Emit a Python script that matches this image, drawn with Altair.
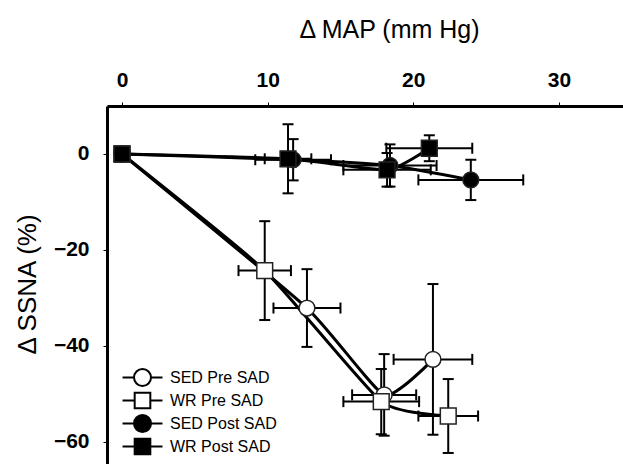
import altair as alt
import pandas as pd

FONT = "Liberation Sans"

series = ["SED Pre SAD", "WR Pre SAD", "SED Post SAD", "WR Post SAD"]
shapes = ["circle", "square", "circle", "square"]
fills = ["white", "white", "black", "black"]

# legend symbols: marker with line stubs
legend_paths = [
    "M-2.35,0L-1,0M1,0L2.35,0M1,0A1,1,0,1,1,-1,0A1,1,0,1,1,1,0Z",
    "M-2.35,0L-0.92,0M0.92,0L2.35,0M-0.92,-0.92L0.92,-0.92L0.92,0.92L-0.92,0.92Z",
    "M-2.35,0L-1,0M1,0L2.35,0M1,0A1,1,0,1,1,-1,0A1,1,0,1,1,1,0Z",
    "M-2.35,0L-0.92,0M0.92,0L2.35,0M-0.92,-0.92L0.92,-0.92L0.92,0.92L-0.92,0.92Z",
]

sed_pre_x = [0, 12.7, 18.0, 21.35]
sed_pre_y = [0, -32.1, -50.2, -42.8]
sed_pre_xerr = [0, 2.3, 2.2, 2.7]
sed_pre_yerr = [0, 8.1, 8.5, 15.7]

wr_pre_x = [0, 9.8, 17.8, 22.4]
wr_pre_y = [0, -24.3, -51.6, -54.6]
wr_pre_xerr = [0, 1.8, 2.6, 2.05]
wr_pre_yerr = [0, 10.3, 6.8, 7.7]

sed_post_x = [0, 11.75, 18.4, 23.95]
sed_post_y = [0, -1.2, -2.4, -5.4]
sed_post_xerr = [0, 2.6, 3.2, 3.6]
sed_post_yerr = [0, 4.3, 4.4, 4.2]

wr_post_x = [0, 11.4, 18.2, 21.1]
wr_post_y = [0, -1.0, -3.3, 1.2]
wr_post_xerr = [0, 1.6, 3.0, 2.95]
wr_post_yerr = [0, 7.2, 3.5, 2.7]

groups = [
    (0, sed_pre_x, sed_pre_y, sed_pre_xerr, sed_pre_yerr),
    (1, wr_pre_x, wr_pre_y, wr_pre_xerr, wr_pre_yerr),
    (2, sed_post_x, sed_post_y, sed_post_xerr, sed_post_yerr),
    (3, wr_post_x, wr_post_y, wr_post_xerr, wr_post_yerr),
]
rows = []
for k, xs, ys, xe, ye in groups:
    for i in range(len(xs)):
        rows.append({
            "series": series[k], "shp": shapes[k], "fc": fills[k],
            "idx": i, "x": xs[i], "y": ys[i],
            "xlo": xs[i] - xe[i], "xhi": xs[i] + xe[i],
            "ylo": ys[i] - ye[i], "yhi": ys[i] + ye[i],
            "haserr": xe[i] > 0,
        })
df = pd.DataFrame(rows)

xscale = alt.Scale(domain=[-1.03, 34.4], nice=False, zero=False)
yscale = alt.Scale(domain=[-64.6, 10], nice=False, zero=False)

xaxis = alt.Axis(
    orient="top", values=[0, 10, 20, 30], title="Δ MAP (mm Hg)", grid=False,
    labelFont=FONT, labelFontWeight="bold", labelFontSize=21, labelColor="black",
    labelPadding=12, tickSize=4, tickColor="black", tickWidth=1,
    domainWidth=3, domainColor="black",
    titleFont=FONT, titleFontSize=25, titleFontWeight="normal", titleColor="black",
    titleX=282, titleY=-69, titleAlign="center", titleBaseline="alphabetic",
)
yaxis = alt.Axis(
    values=[0, -20, -40, -60], title="Δ SSNA (%)", grid=False,
    labelFont=FONT, labelFontWeight="bold", labelFontSize=21, labelColor="black",
    labelPadding=14, tickSize=4, tickColor="black", tickWidth=1,
    domainWidth=3, domainColor="black",
    titleFont=FONT, titleFontSize=26, titleFontWeight="normal", titleColor="black",
    titleAngle=270, titleX=-80, titleY=178, titleAlign="center", titleBaseline="middle",
)

base = alt.Chart(df)
X = alt.X("x:Q", scale=xscale, axis=xaxis)
Y = alt.Y("y:Q", scale=yscale, axis=yaxis)

err = base.transform_filter("datum.haserr")
xerr_rule = err.mark_rule(color="black", strokeWidth=2).encode(
    x=alt.X("xlo:Q", scale=xscale), x2="xhi:Q", y=alt.Y("y:Q", scale=yscale))
yerr_rule = err.mark_rule(color="black", strokeWidth=2).encode(
    y=alt.Y("ylo:Q", scale=yscale), y2="yhi:Q", x=alt.X("x:Q", scale=xscale))
cap_ylo = err.mark_tick(orient="horizontal", size=11, thickness=2, color="black", opacity=1).encode(
    x=alt.X("x:Q", scale=xscale), y=alt.Y("ylo:Q", scale=yscale))
cap_yhi = err.mark_tick(orient="horizontal", size=11, thickness=2, color="black", opacity=1).encode(
    x=alt.X("x:Q", scale=xscale), y=alt.Y("yhi:Q", scale=yscale))
cap_xlo = err.mark_tick(orient="vertical", size=11, thickness=2, color="black", opacity=1).encode(
    x=alt.X("xlo:Q", scale=xscale), y=alt.Y("y:Q", scale=yscale))
cap_xhi = err.mark_tick(orient="vertical", size=11, thickness=2, color="black", opacity=1).encode(
    x=alt.X("xhi:Q", scale=xscale), y=alt.Y("y:Q", scale=yscale))

lines = base.mark_line(interpolate="cardinal", tension=0.5, color="black", strokeWidth=3).encode(
    x=X, y=Y, detail="series:N", order="idx:Q")

points = base.mark_point(filled=True, opacity=1, stroke="#222", strokeWidth=1.5, size=250).encode(
    x=alt.X("x:Q", scale=xscale),
    y=alt.Y("y:Q", scale=yscale),
    shape=alt.Shape("shp:N", scale=None),
    fill=alt.Fill("fc:N", scale=None),
)

leg = alt.Legend(
    title=None, orient="none", legendX=26, legendY=262, padding=0,
    symbolSize=289, symbolStrokeWidth=2, symbolStrokeColor="black", symbolOpacity=1,
    labelFont=FONT, labelFontSize=16, labelColor="black", labelOffset=18, rowPadding=-2,
)
legend_layer = base.transform_filter("false").mark_point(
    filled=True, opacity=1, strokeWidth=2, size=289).encode(
    x=alt.X("x:Q", scale=xscale),
    y=alt.Y("y:Q", scale=yscale),
    shape=alt.Shape("series:N", scale=alt.Scale(domain=series, range=legend_paths), legend=leg),
    fill=alt.Fill("series:N", scale=alt.Scale(domain=series, range=fills), legend=leg),
    stroke=alt.Stroke("series:N", scale=alt.Scale(domain=series, range=["black"] * 4), legend=leg),
)

chart = alt.layer(
    xerr_rule, yerr_rule, cap_ylo, cap_yhi, cap_xlo, cap_xhi, lines, points, legend_layer
).properties(
    width=516, height=358,
    padding={"left": 107, "top": 106, "right": 0, "bottom": 0},
    autosize=alt.AutoSizeParams(type="none"),
).configure_view(stroke=None).configure(background="white")

chart.save("out.html", embed_options={"renderer": "svg", "actions": False})
